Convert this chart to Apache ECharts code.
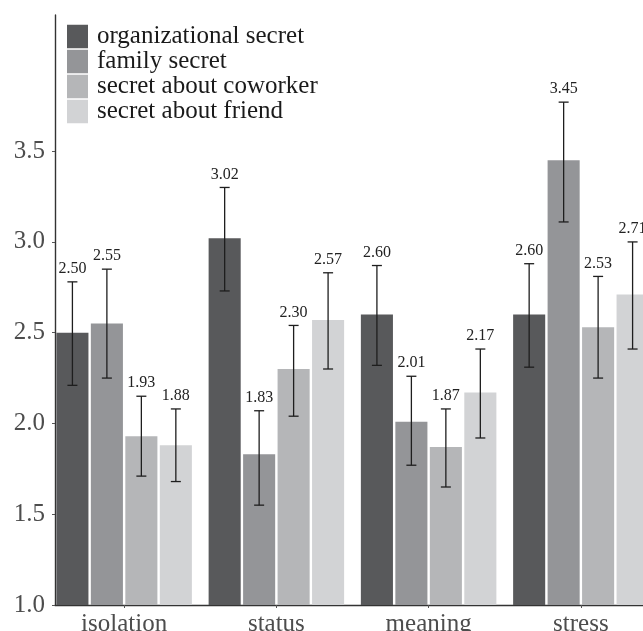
<!DOCTYPE html>
<html>
<head>
<meta charset="utf-8">
<script src="https://cdn.jsdelivr.net/npm/echarts@6/dist/echarts.min.js"></script>
<style>
html,body{margin:0;padding:0;background:#fff;}
#chart{width:643px;height:631px;}
</style>
</head>
<body>
<div id="chart"></div>
<script>
const categories = ['isolation', 'status', 'meaning', 'stress'];
const groupNames = ['organizational secret', 'family secret', 'secret about coworker', 'secret about friend'];
const yTickValues = [1.0, 1.5, 2.0, 2.5, 3.0, 3.5];

const orgMean = [2.50, 3.02, 2.60, 2.60];
const familyMean = [2.55, 1.83, 2.01, 3.45];
const coworkerMean = [1.93, 2.30, 1.87, 2.53];
const friendMean = [1.88, 2.57, 2.17, 2.71];

const orgLow = [2.21, 2.73, 2.32, 2.31];
const orgHigh = [2.78, 3.30, 2.87, 2.88];
const familyLow = [2.25, 1.55, 1.77, 3.11];
const familyHigh = [2.85, 2.07, 2.26, 3.77];
const coworkerLow = [1.71, 2.04, 1.65, 2.25];
const coworkerHigh = [2.15, 2.54, 2.08, 2.81];
const friendLow = [1.68, 2.30, 1.92, 2.41];
const friendHigh = [2.08, 2.83, 2.41, 3.00];

const colors = ['#58595b', '#949598', '#b5b6b8', '#d2d3d5'];
const FONT = '"Liberation Serif", "DejaVu Serif", serif';

const means = [orgMean, familyMean, coworkerMean, friendMean];
const lows = [orgLow, familyLow, coworkerLow, friendLow];
const highs = [orgHigh, familyHigh, coworkerHigh, friendHigh];

const CAT_GAP = 0.11, BAR_GAP = 0.075;

const errData = [];
for (let g = 0; g < 4; g++) {
  for (let c = 0; c < categories.length; c++) {
    errData.push([c, g, lows[g][c], highs[g][c], means[g][c]]);
  }
}

function renderErr(params, api) {
  const c = api.value(0), g = api.value(1), lo = api.value(2), hi = api.value(3), m = api.value(4);
  const bw = api.size([1, 0])[0];
  const barW = bw * (1 - CAT_GAP) / (4 + 3 * BAR_GAP);
  const pitch = barW * (1 + BAR_GAP);
  const pHi = api.coord([c, hi]);
  const pLo = api.coord([c, lo]);
  const x = pHi[0] + (g - 1.5) * pitch;
  const cap = 5;
  const ls = { stroke: '#1e1e1e', lineWidth: 1.3 };
  return {
    type: 'group',
    children: [
      { type: 'line', shape: { x1: x, y1: pHi[1], x2: x, y2: pLo[1] }, style: ls },
      { type: 'line', shape: { x1: x - cap, y1: pHi[1], x2: x + cap, y2: pHi[1] }, style: ls },
      { type: 'line', shape: { x1: x - cap, y1: pLo[1], x2: x + cap, y2: pLo[1] }, style: ls },
      { type: 'text', style: { text: m.toFixed(2), x: x, y: pHi[1] - 5, align: 'center', verticalAlign: 'bottom',
        fontFamily: FONT, fontSize: 16, fill: '#222' } }
    ]
  };
}

const barSeries = groupNames.map((name, g) => ({
  name: name,
  type: 'bar',
  xAxisIndex: 0,
  yAxisIndex: 0,
  data: means[g],
  barCategoryGap: (CAT_GAP * 100) + '%',
  barGap: (BAR_GAP * 100) + '%',
  itemStyle: { color: colors[g] },
  emphasis: { disabled: true }
}));

const chart = echarts.init(document.getElementById('chart'), null, { renderer: 'canvas' });
chart.setOption({
  backgroundColor: '#ffffff',
  animation: false,
  color: colors,
  legend: {
    data: groupNames,
    orient: 'vertical',
    left: 67,
    top: 24,
    padding: 0,
    itemWidth: 21,
    itemHeight: 23.5,
    itemGap: 0,
    icon: 'rect',
    selectedMode: false,
    textStyle: { fontFamily: FONT, fontSize: 25, color: '#1a1a1a', lineHeight: 23.5, padding: [0, 0, 0, 4] }
  },
  grid: [
    { left: 48, right: -14, top: 15, bottom: 26, containLabel: false, outerBoundsMode: 'none' },
    { left: 55, right: -14, top: 15, bottom: 26, containLabel: false, outerBoundsMode: 'none' }
  ],
  xAxis: [
    {
      type: 'category',
      gridIndex: 0,
      data: categories,
      axisLine: { show: false },
      axisTick: { show: true, alignWithLabel: true, length: 3, lineStyle: { color: '#555', width: 1 } },
      axisLabel: { fontFamily: FONT, fontSize: 25, color: '#4d4d4d', margin: 7 },
      splitLine: { show: false }
    },
    {
      type: 'value',
      gridIndex: 1,
      min: 0,
      max: 1,
      axisLine: { show: true, lineStyle: { color: '#333', width: 1.4 } },
      axisTick: { show: false },
      axisLabel: { show: false },
      splitLine: { show: false }
    }
  ],
  yAxis: [
    {
      type: 'value',
      gridIndex: 0,
      min: 1,
      max: 4.25,
      interval: 0.5,
      show: false,
      splitLine: { show: false }
    },
    {
      type: 'value',
      gridIndex: 1,
      min: 1,
      max: 4.25,
      interval: 0.5,
      axisLine: { show: true, lineStyle: { color: '#333', width: 1.4 } },
      axisTick: { show: true, length: 3, customValues: yTickValues, lineStyle: { color: '#555' } },
      axisLabel: {
        customValues: yTickValues,
        fontFamily: FONT, fontSize: 25, color: '#4d4d4d', margin: 10,
        formatter: v => Number(v).toFixed(1)
      },
      splitLine: { show: false }
    }
  ],
  series: barSeries.concat([{
    type: 'custom',
    xAxisIndex: 0,
    yAxisIndex: 0,
    renderItem: renderErr,
    data: errData,
    encode: { x: 0, y: [2, 3] },
    z: 5,
    silent: true
  }])
});
</script>
</body>
</html>
